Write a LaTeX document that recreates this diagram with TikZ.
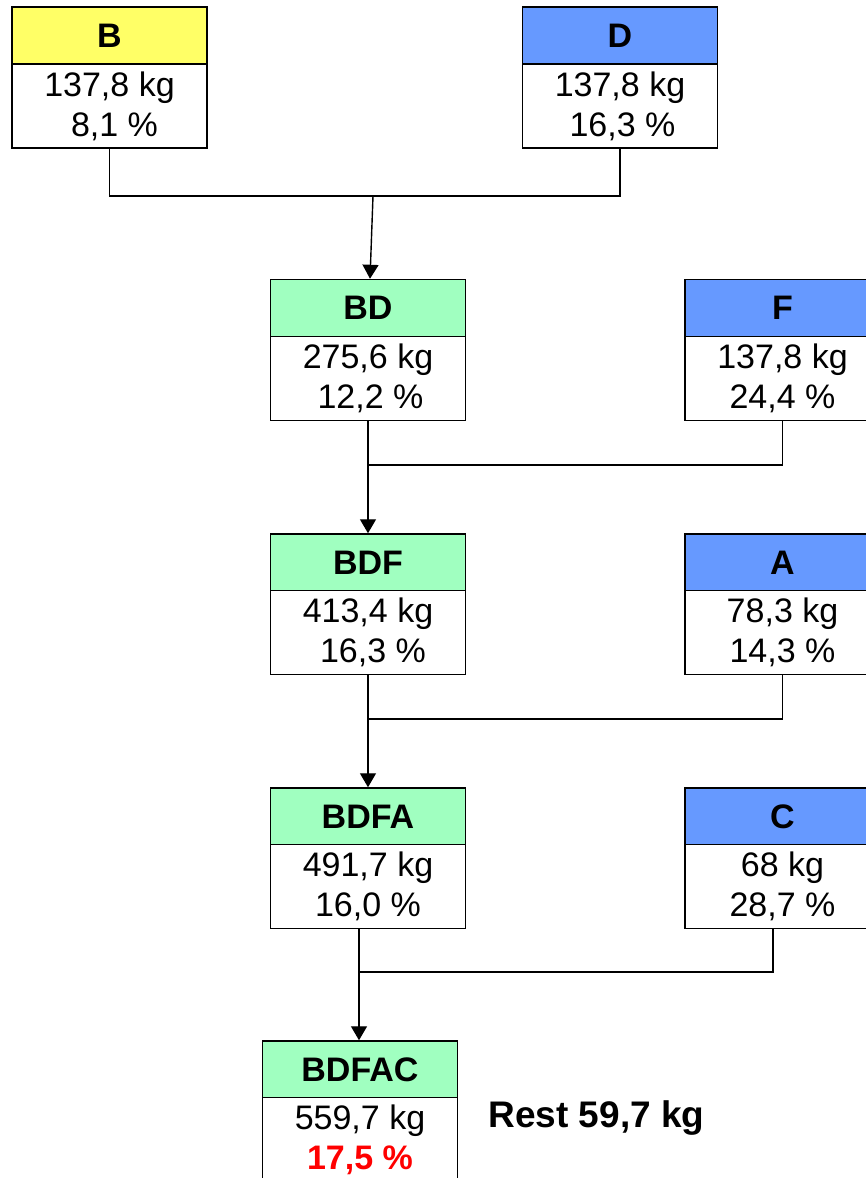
\documentclass[tikz,border=0pt]{standalone}
\usepackage{fontspec}
\setmainfont{Liberation Sans}
\usetikzlibrary{arrows.meta}
\definecolor{stageyellow}{RGB}{255,255,102}
\definecolor{stageblue}{RGB}{102,153,255}
\definecolor{stagegreen}{RGB}{160,255,192}
\tikzset{
  head/.style={draw,line width=1.5pt,minimum width=195pt,minimum height=57pt,
    inner sep=0pt,font=\fontsize{34}{40}\selectfont\bfseries},
  body/.style={draw,line width=1.5pt,fill=white,minimum width=195pt,minimum height=84pt,
    inner sep=0pt,align=center,font=\fontsize{34}{40}\selectfont,
    execute at begin node={\rule{0pt}{37pt}}},
  link/.style={line width=1.4pt},
  feed/.style={link,-{Triangle[length=14pt,width=16pt]}}
}
\newcommand{\Pct}[2]{\hspace*{#1pt}#2}

\begin{document}
\begin{tikzpicture}[x=1pt,y=-1pt,line cap=rect,line join=miter]
  \useasboundingbox (0,0) rectangle (866,1178);

  % inputs and mixtures
  \node[head,fill=stageyellow] (B)  at (109.5,35.5) {B};
  \node[body] (Bv)  at (109.5,106) {137,8 kg\\\Pct{10}{8,1 \%}};
  \node[head,fill=stageblue] (D)  at (620,35.5) {D};
  \node[body] (Dv)  at (620,106) {137,8 kg\\\Pct{5}{16,3 \%}};

  \node[head,fill=stagegreen] (BD) at (368,308) {BD};
  \node[body] (BDv) at (368,378.5) {275,6 kg\\\Pct{5}{12,2 \%}};
  \node[head,fill=stageblue] (F)  at (782.5,308) {F};
  \node[body] (Fv)  at (782.5,378.5) {137,8 kg\\24,4 \%};

  \node[head,fill=stagegreen] (BDF) at (368,562.5) {BDF};
  \node[body] (BDFv) at (368,632.5) {413,4 kg\\\Pct{10}{16,3 \%}};
  \node[head,fill=stageblue] (A)  at (782.5,562.5) {A};
  \node[body] (Av)  at (782.5,632.5) {78,3 kg\\14,3 \%};

  \node[head,fill=stagegreen] (BDFA) at (368,816.5) {BDFA};
  \node[body] (BDFAv) at (368,886.5) {491,7 kg\\16,0 \%};
  \node[head,fill=stageblue] (C)  at (782.5,816.5) {C};
  \node[body] (Cv)  at (782.5,886.5) {68 kg\\28,7 \%};

  \node[head,fill=stagegreen] (BDFAC) at (360,1069.5) {BDFAC};
  \node[body] (BDFACv) at (360,1139.5) {559,7 kg\\\textcolor{red}{\bfseries 17,5 \%}};

  \node[font=\fontsize{37}{42}\selectfont\bfseries,anchor=west] (rest) at (485,1118) {Rest 59,7 kg};

  % junctions
  \coordinate (j1) at (373,196);
  \coordinate (j2) at (368,465);
  \coordinate (j3) at (368,719);
  \coordinate (j4) at (359,972);

  \draw[link] (Bv.south) |- (j1) -| (Dv.south);
  \draw[feed] (j1) -- ([xshift=2pt]BD.north);
  \draw[feed] (BDv.south) -- (BDF.north);
  \draw[link] (Fv.south) |- (j2);
  \draw[feed] (BDFv.south) -- (BDFA.north);
  \draw[link] (Av.south) |- (j3);
  \draw[feed] (j4 |- BDFAv.south) -- (BDFAC.north -| j4);
  \draw[link] ([xshift=-9.5pt]Cv.south) |- (j4);
\end{tikzpicture}
\end{document}
